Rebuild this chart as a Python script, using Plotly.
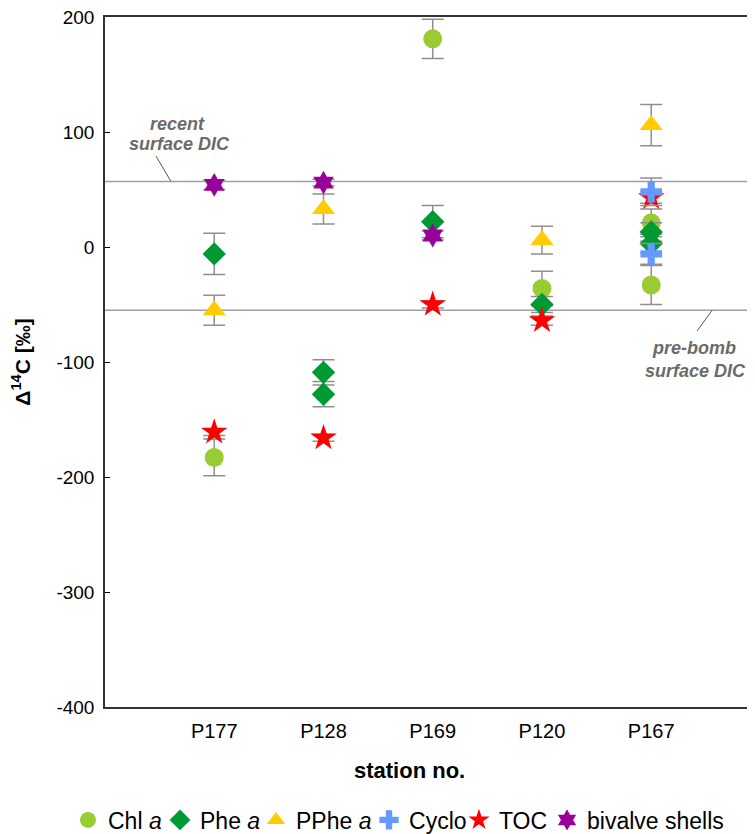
import plotly.graph_objects as go

stations = ["P177", "P128", "P169", "P120", "P167"]

chl_st = ["P177", "P169", "P120", "P167", "P167"]
chl_val = [-183, 181, -36, 21, -33]
chl_err = [16, 17, 15, 12, 17]

phe_st = ["P177", "P128", "P128", "P169", "P120", "P167", "P167"]
phe_val = [-6, -109, -128, 22, -50, 13, 3]
phe_err = [18, 11, 11, 14, 7, 8, 8]

pphe_st = ["P177", "P128", "P120", "P167"]
pphe_val = [-55, 33, 6, 106]
pphe_err = [13, 13, 12, 18]

cyclo_st = ["P167", "P167"]
cyclo_val = [48, -6]
cyclo_err = [12, 9]

toc_st = ["P177", "P128", "P169", "P120", "P167"]
toc_val = [-161, -166, -50, -64, 43]
toc_err = [3, 3, 3, 4, 5]

biv_st = ["P177", "P128", "P169"]
biv_val = [54, 56, 10]
biv_err = [4, 3, 4]

recent_dic = 57
prebomb_dic = -55

y_ticks = [-400, -300, -200, -100, 0, 100, 200]
y_ticktext = ["-400", "-300", "-200", "-100", "0", "100", "200"]

FONT = "Liberation Sans, Arial, sans-serif"
ERRC = "#8f8f8f"

def trace(name, xs, ys, es, symbol, color, size, leg):
    return go.Scatter(
        x=xs, y=ys, mode="markers", name=name, legend=leg,
        marker=dict(symbol=symbol, color=color, size=size, line=dict(width=0)),
        error_y=dict(type="data", array=es, visible=True, color=ERRC,
                     thickness=1.5, width=11),
    )

fig = go.Figure()
fig.add_trace(trace("Chl <i>a</i>", chl_st, chl_val, chl_err, "circle", "#99CC33", 19, "legend"))
fig.add_trace(trace("Phe <i>a</i>", phe_st, phe_val, phe_err, "diamond", "#009933", 18, "legend2"))
fig.add_trace(trace("PPhe <i>a</i>", pphe_st, pphe_val, pphe_err, "triangle-up", "#FFCC00", 20, "legend3"))
fig.add_trace(trace("TOC", toc_st, toc_val, toc_err, "star", "#FF0000", 20, "legend5"))
fig.add_trace(trace("Cyclo", cyclo_st, cyclo_val, cyclo_err, "cross", "#6699FF", 18, "legend4"))
fig.add_trace(trace("bivalve shells", biv_st, biv_val, biv_err, "hexagram", "#990099", 18, "legend6"))

for v in (recent_dic, prebomb_dic):
    fig.add_shape(type="line", xref="paper", x0=0, x1=1, yref="y", y0=v, y1=v,
                  line=dict(color="#a0a0a0", width=1.5), layer="below")

# leader lines
fig.add_shape(type="line", xref="paper", x0=0.0785, x1=0.1015, yref="y", y0=79, y1=recent_dic,
              line=dict(color="#555555", width=1))
fig.add_shape(type="line", xref="paper", x0=0.934, x1=0.911, yref="y", y0=prebomb_dic, y1=-73,
              line=dict(color="#555555", width=1))

afont = dict(family=FONT, size=18, color="#6b6b6b")
for txt, xp, yv in [("recent", 0.111, 107), ("surface DIC", 0.115, 89.5),
                    ("pre-bomb", 0.906, -88), ("surface DIC", 0.908, -107.4)]:
    fig.add_annotation(text=f"<b><i>{txt}</i></b>", xref="paper", x=xp, yref="y", y=yv,
                       showarrow=False, font=afont, xanchor="center", yanchor="middle")

fig.add_annotation(text="<b>station no.</b>", xref="paper", x=0.469, yref="paper", y=-0.0914,
                   showarrow=False, font=dict(family=FONT, size=22, color="black"),
                   xanchor="center", yanchor="middle")

legend_x = [0.0803, 0.2035, 0.332, 0.4833, 0.6037, 0.7216]
leg_common = dict(orientation="h", xref="container", xanchor="left",
                  yref="container", y=0.017, yanchor="middle",
                  font=dict(family=FONT, size=23, color="black"), itemwidth=30,
                  bgcolor="rgba(0,0,0,0)", borderwidth=0)
legends = {}
for i, lx in enumerate(legend_x):
    key = "legend" if i == 0 else f"legend{i + 1}"
    legends[key] = dict(leg_common, x=lx)

fig.update_layout(
    width=747, height=826,
    margin=dict(l=97, r=0, t=9, b=127, autoexpand=False),
    plot_bgcolor="white", paper_bgcolor="white",
    font=dict(family=FONT, color="black"),
    showlegend=True,
    **legends,
)
fig.update_xaxes(type="category", categoryorder="array", categoryarray=stations,
                 range=[-1, 4.95], showline=True, mirror=True, linecolor="#333333",
                 linewidth=1.5, ticks="", showgrid=False, zeroline=False, automargin=False,
                 tickfont=dict(family=FONT, size=20), ticklabelstandoff=5)
fig.update_yaxes(range=[-400, 200], tickvals=y_ticks, ticktext=y_ticktext,
                 ticks="inside", ticklen=5, automargin=False, ticklabeloverflow="allow",
                 tickcolor="black", showline=True, linecolor="#333333", linewidth=1.5,
                 showgrid=False, zeroline=False, tickfont=dict(family=FONT, size=19),
                 ticklabelstandoff=5,
                 title=dict(text="<b>Δ<sup>14</sup>C [‰]</b>", standoff=22,
                            font=dict(family=FONT, size=21)))

fig.write_html("out.html")
